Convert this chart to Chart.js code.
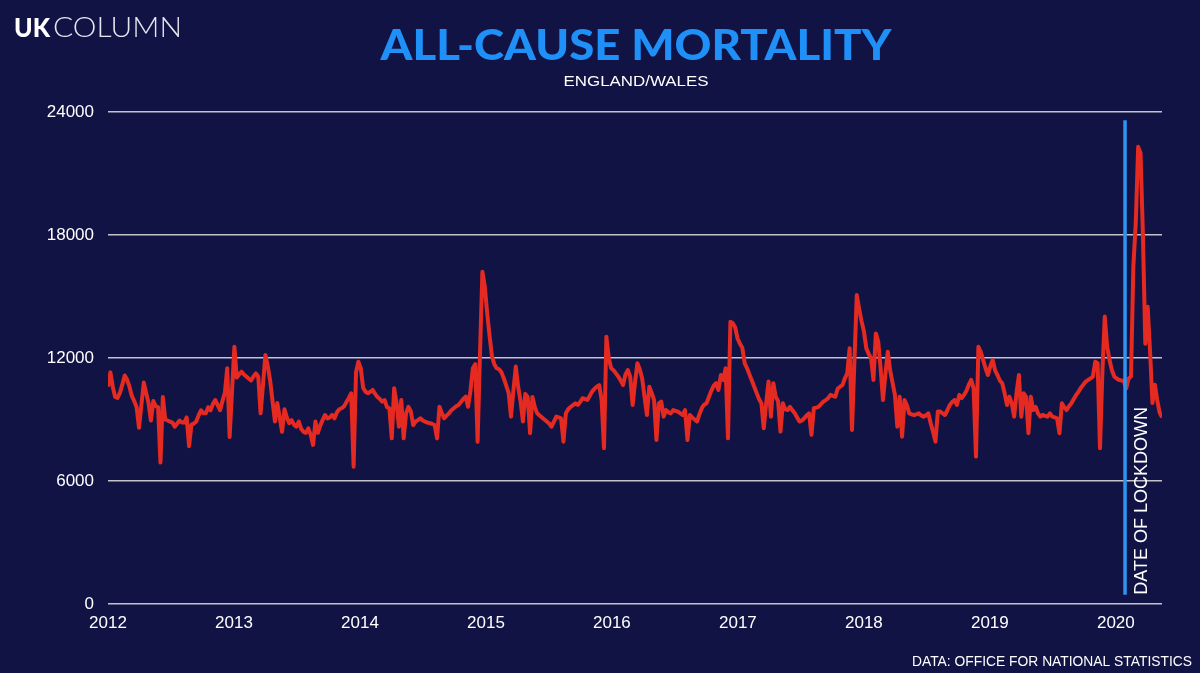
<!DOCTYPE html>
<html>
<head>
<meta charset="utf-8">
<title>All-cause mortality</title>
<script src="https://cdn.jsdelivr.net/npm/chart.js@4.4.0/dist/chart.umd.min.js"></script>
<style>
  html, body { margin: 0; padding: 0; background: #111345; }
  #wrap { width: 1200px; height: 673px; }
</style>
</head>
<body>
<div id="wrap"><canvas id="mortalityChart" width="1200" height="673"></canvas></div>
<script>
// Weekly registered deaths, England/Wales
const deaths2012 = [
  10600, 11300, 10600, 10100, 10050, 10300, 10700, 11150, 10950, 10600, 10150, 9900, 9600,
  8600, 9700, 10800, 10300, 9800, 8950, 9900, 9650, 9600, 6900, 10100, 9000, 8950,
  8900, 8850, 8650, 8800, 8950, 8850, 8850, 9100, 7700, 8750, 8800, 8900, 9200,
  9450, 9300, 9300, 9600, 9450, 9750, 9950, 9700, 9450, 9900, 10300, 11500, 8150
];
const deaths2013 = [
  10350, 12550, 11050, 11200, 11330, 11200, 11100, 11000, 10900, 11100, 11250, 11100, 9300,
  10700, 12150, 11600, 10900, 9900, 8900, 9800, 9100, 8400, 9500, 9100, 8820, 8970,
  8750, 8650, 8900, 8550, 8400, 8350, 8570, 8250, 7760, 8900, 8350, 8700, 8970,
  9220, 9050, 9100, 9220, 9060, 9350, 9500, 9550, 9650, 9850, 10050, 10280, 6700
];
const deaths2014 = [
  11300, 11820, 11500, 10550, 10350, 10280, 10350, 10440, 10250, 10100, 10000, 9870, 9950,
  9600, 9550, 8080, 10520, 9800, 8650, 9950, 8080, 9300, 9620, 9390, 8730, 8900,
  8970, 9060, 8950, 8900, 8850, 8820, 8780, 8730, 8080, 9620, 9300, 9060, 9200,
  9300, 9450, 9550, 9650, 9710, 9850, 10000, 10110, 9620, 10400, 11500, 11700, 7920
];
const deaths2015 = [
  12220, 16210, 15500, 14200, 13100, 12100, 11700, 11500, 11450, 11300, 11000, 10650, 10300,
  9140, 10400, 11580, 10600, 9900, 8900, 10250, 10100, 8330, 10100, 9600, 9300, 9200,
  9100, 9000, 8900, 8800, 8650, 8900, 9140, 9100, 9060, 7920, 9300, 9500, 9620,
  9700, 9790, 9710, 9850, 10040, 10000, 9950, 10150, 10360, 10500, 10600, 10680, 9950, 7600
];
const deaths2016 = [
  13040, 12000, 11500, 11400, 11250, 11090, 10900, 10680, 11200, 11410, 11090, 9710, 10800,
  11740, 11450, 11000, 10100, 9220, 10600, 10300, 9950, 8000, 9790, 9870, 9140, 9460,
  9350, 9300, 9460, 9420, 9380, 9300, 9220, 9460, 8000, 9220, 9100, 9000, 8900,
  9250, 9550, 9720, 9790, 10100, 10400, 10650, 10770, 10440, 11170, 10930, 11500, 8080
];
const deaths2017 = [
  13770, 13700, 13500, 12950, 12700, 12500, 11740, 11500, 11200, 10900, 10600, 10300, 10000,
  9790, 8570, 9800, 10850, 9140, 10770, 10110, 9900, 8410, 9790, 9500, 9460, 9620,
  9450, 9300, 9100, 8900, 8950, 9060, 9200, 9300, 8250, 9550, 9580, 9620, 9750,
  9870, 9950, 10040, 10200, 10150, 10110, 10500, 10600, 10680, 11010, 11250, 12470, 8490
];
const deaths2018 = [
  11800, 15070, 14400, 13800, 13300, 12470, 12200, 12000, 10930, 13200, 12800, 11500, 9950,
  11200, 12310, 11400, 10800, 10200, 8650, 10110, 8160, 9950, 9700, 9300, 9250, 9220,
  9250, 9300, 9200, 9140, 9200, 9300, 8820, 8400, 7920, 9390, 9390, 9300, 9220,
  9450, 9710, 9850, 9950, 9710, 10200, 10040, 10200, 10400, 10700, 10930, 10520, 7190
];
const deaths2019 = [
  12550, 12300, 11900, 11500, 11170, 11600, 11900, 11400, 11170, 10900, 10770, 10280, 9710,
  10110, 9800, 9140, 10300, 11170, 9140, 10280, 10100, 8330, 10110, 9460, 9620, 9300,
  9140, 9220, 9180, 9140, 9300, 9140, 9100, 9060, 8330, 9790, 9600, 9460, 9650,
  9790, 10000, 10200, 10350, 10550, 10700, 10850, 10930, 11000, 11090, 11820, 11750, 7600
];
const deaths2020 = [
  11300, 14020, 12550, 11900, 11400, 11090, 11000, 10930, 10900, 10870, 10520, 11000, 11100,
  16500, 18600, 22300, 22000, 18000, 12700, 14500, 12300, 9800, 10700, 9950, 9350, 9100
];

const yearLabels = [2012, 2013, 2014, 2015, 2016, 2017, 2018, 2019, 2020];
const yTickValues = [0, 6000, 12000, 18000, 24000];

// the year labels sit about 52.8 weekly points apart on the original
const weeksPerYearTick = 52.83;
const lockdownWeek = 426.5;
const lockdownTop = 23600;
const lockdownBottom = 450;

const weekly = [].concat(deaths2012, deaths2013, deaths2014, deaths2015,
  deaths2016, deaths2017, deaths2018, deaths2019, deaths2020);
const points = weekly.map((v, i) => ({ x: yearLabels[0] + i / weeksPerYearTick, y: v }));
const xMax = yearLabels[0] + (weekly.length - 1) / weeksPerYearTick;

const BG = '#111345';
const SANS = "'Liberation Sans', Arial, Helvetica, sans-serif";

function fitText(ctx, text, x, y, width, align) {
  const w = ctx.measureText(text).width;
  ctx.save();
  ctx.translate(x, y);
  ctx.scale(width / w, 1);
  ctx.textAlign = align;
  ctx.fillText(text, 0, 0);
  ctx.restore();
}

const background = {
  id: 'background',
  beforeDraw(chart) {
    const ctx = chart.ctx;
    ctx.save();
    ctx.fillStyle = BG;
    ctx.fillRect(0, 0, chart.width, chart.height);
    ctx.restore();
  }
};

const lockdown = {
  id: 'lockdown',
  afterDatasetsDraw(chart) {
    const ctx = chart.ctx;
    const x = chart.scales.x.getPixelForValue(yearLabels[0] + lockdownWeek / weeksPerYearTick);
    const top = chart.scales.y.getPixelForValue(lockdownTop);
    const bottom = chart.scales.y.getPixelForValue(lockdownBottom);
    ctx.save();
    ctx.strokeStyle = '#2f95f0';
    ctx.lineWidth = 3.5;
    ctx.beginPath();
    ctx.moveTo(x, top);
    ctx.lineTo(x, bottom);
    ctx.stroke();

    ctx.translate(x + 17, bottom);
    ctx.rotate(-Math.PI / 2);
    ctx.fillStyle = '#ffffff';
    ctx.font = '18px ' + SANS;
    ctx.textAlign = 'left';
    ctx.textBaseline = 'middle';
    ctx.fillText('DATE OF LOCKDOWN', 0, 0);
    ctx.restore();
  }
};

const decorations = {
  id: 'decorations',
  afterDraw(chart) {
    const ctx = chart.ctx;
    ctx.save();
    ctx.textBaseline = 'alphabetic';

    // logo
    ctx.fillStyle = '#ffffff';
    ctx.font = '900 27px Lato';
    fitText(ctx, 'UK', 14, 37, 36, 'left');
    ctx.fillStyle = '#e6e6ee';
    ctx.font = '300 27px Lato';
    fitText(ctx, 'COLUMN', 53, 37, 129, 'left');

    // title + subtitle
    ctx.fillStyle = '#1e90f8';
    ctx.font = '900 42px Lato';
    fitText(ctx, 'ALL-CAUSE MORTALITY', 636, 60, 511, 'center');
    ctx.fillStyle = '#ffffff';
    ctx.font = '15px ' + SANS;
    fitText(ctx, 'ENGLAND/WALES', 636, 86, 145, 'center');

    // source
    ctx.font = '15px ' + SANS;
    fitText(ctx, 'DATA: OFFICE FOR NATIONAL STATISTICS', 1192, 666, 280, 'right');
    ctx.restore();
  }
};

const mortalityChart = new Chart(
  document.getElementById('mortalityChart'),
  {
    type: 'line',
    data: {
      datasets: [{
        label: 'Deaths',
        data: points,
        borderColor: '#e52a21',
        borderWidth: 4,
        borderJoinStyle: 'round',
        pointRadius: 0,
        tension: 0,
        fill: false
      }]
    },
    options: {
      responsive: false,
      animation: false,
      devicePixelRatio: 1,
      layout: { padding: { left: 0, right: 38, top: 112, bottom: 0 } },
      scales: {
        x: {
          type: 'linear',
          min: yearLabels[0],
          max: xMax,
          afterBuildTicks: function(scale) {
            scale.ticks = yearLabels.map(v => ({ value: v }));
          },
          afterFit: function(scale) { scale.height = 69; },
          grid: { display: false },
          border: { display: false },
          ticks: {
            color: '#ffffff',
            font: { family: SANS, size: 17 },
            padding: 1,
            autoSkip: false,
            maxRotation: 0,
            callback: function(value) { return String(value); }
          }
        },
        y: {
          min: 0,
          max: 24000,
          afterBuildTicks: function(scale) {
            scale.ticks = yTickValues.map(v => ({ value: v }));
          },
          afterFit: function(scale) { scale.width = 108; },
          grid: { color: 'rgba(215,215,215,0.9)', lineWidth: 1.5, drawTicks: false },
          border: { display: false },
          ticks: {
            color: '#ffffff',
            font: { family: SANS, size: 17 },
            padding: 14,
            callback: function(value) { return String(value); }
          }
        }
      },
      plugins: {
        legend: { display: false },
        tooltip: { enabled: false }
      }
    },
    plugins: [background, lockdown, decorations]
  }
);
</script>
</body>
</html>
